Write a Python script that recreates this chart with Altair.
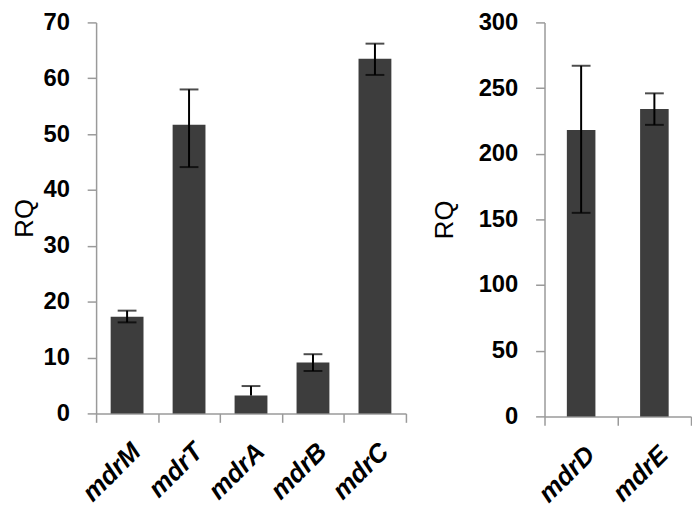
import altair as alt
import pandas as pd

# ---- data ----
genes_left = ["mdrM", "mdrT", "mdrA", "mdrB", "mdrC"]
rq_left = [17.3, 51.7, 3.2, 9.1, 63.5]
err_lo_left = [16.3, 44.1, 3.2, 7.6, 60.6]
err_hi_left = [18.4, 58.0, 4.9, 10.6, 66.2]
ticks_left = [0, 10, 20, 30, 40, 50, 60, 70]

genes_right = ["mdrD", "mdrE"]
rq_right = [218, 234]
err_lo_right = [155, 222]
err_hi_right = [267, 246]
ticks_right = [0, 50, 100, 150, 200, 250, 300]

FONT = "Liberation Sans"
AXIS_GRAY = "#9a9a9a"
BAR = "#3d3d3d"


def panel(genes, rq, lo, hi, ticks, width, height, band, title_pad, label_pad):
    df = pd.DataFrame({"gene": genes, "rq": rq, "lo": lo, "hi": hi})
    cap_gene, cap_val = [], []
    for g, r, l, h in zip(genes, rq, lo, hi):
        cap_gene.append(g)
        cap_val.append(h)
        if l < r:
            cap_gene.append(g)
            cap_val.append(l)
    caps = pd.DataFrame({"gene": cap_gene, "v": cap_val})

    xscale = alt.Scale(domain=genes, paddingInner=0, paddingOuter=0)
    yscale = alt.Scale(domain=[ticks[0], ticks[-1]], nice=False, zero=True)

    x_axis = alt.Axis(
        title=None, labelAngle=-45, labelAlign="right", labelBaseline="top",
        tickBand="extent", tickSize=9, tickColor=AXIS_GRAY, tickWidth=1.5,
        domainColor=AXIS_GRAY, domainWidth=1.5,
        labelFont=FONT, labelFontSize=26, labelFontWeight="bold",
        labelFontStyle="italic", labelColor="black", labelPadding=16,
    )
    y_axis = alt.Axis(
        title="RQ", values=ticks, grid=False,
        tickSize=9, tickColor=AXIS_GRAY, tickWidth=1.5,
        domainColor=AXIS_GRAY, domainWidth=1.5,
        labelFont=FONT, labelFontSize=24, labelFontWeight="bold",
        labelColor="black", labelPadding=label_pad,
        titleFont=FONT, titleFontSize=26, titleFontWeight="normal",
        titleColor="black", titlePadding=title_pad,
    )

    X = alt.X("gene:N", sort=genes, scale=xscale, axis=x_axis, title=None)

    bars = alt.Chart(df).mark_bar(
        color=BAR, width=alt.RelativeBandSize(band)
    ).encode(
        x=X,
        y=alt.Y("rq:Q", scale=yscale, axis=y_axis, title="RQ"),
    )
    rule = alt.Chart(df).mark_rule(color="black", strokeWidth=2).encode(
        x=X,
        y=alt.Y("lo:Q", scale=yscale, axis=y_axis, title="RQ"),
        y2="hi:Q",
    )
    cap = alt.Chart(caps).mark_tick(color="black", thickness=2, size=19).encode(
        x=X,
        y=alt.Y("v:Q", scale=yscale, axis=y_axis, title="RQ"),
    )
    return alt.layer(bars, rule, cap).properties(width=width, height=height)


left = panel(genes_left, rq_left, err_lo_left, err_hi_left, ticks_left,
             313, 395, 0.53, 6, 18)
right = panel(genes_right, rq_right, err_lo_right, err_hi_right, ticks_right,
              148, 398, 0.39, 21, 18)

chart = alt.hconcat(left, right, spacing=24).properties(
    padding={"left": 3, "top": 0, "right": 0, "bottom": 0}, background="white"
).configure_view(stroke=None)

chart.save("out.html", embed_options={"renderer": "svg", "actions": False})
